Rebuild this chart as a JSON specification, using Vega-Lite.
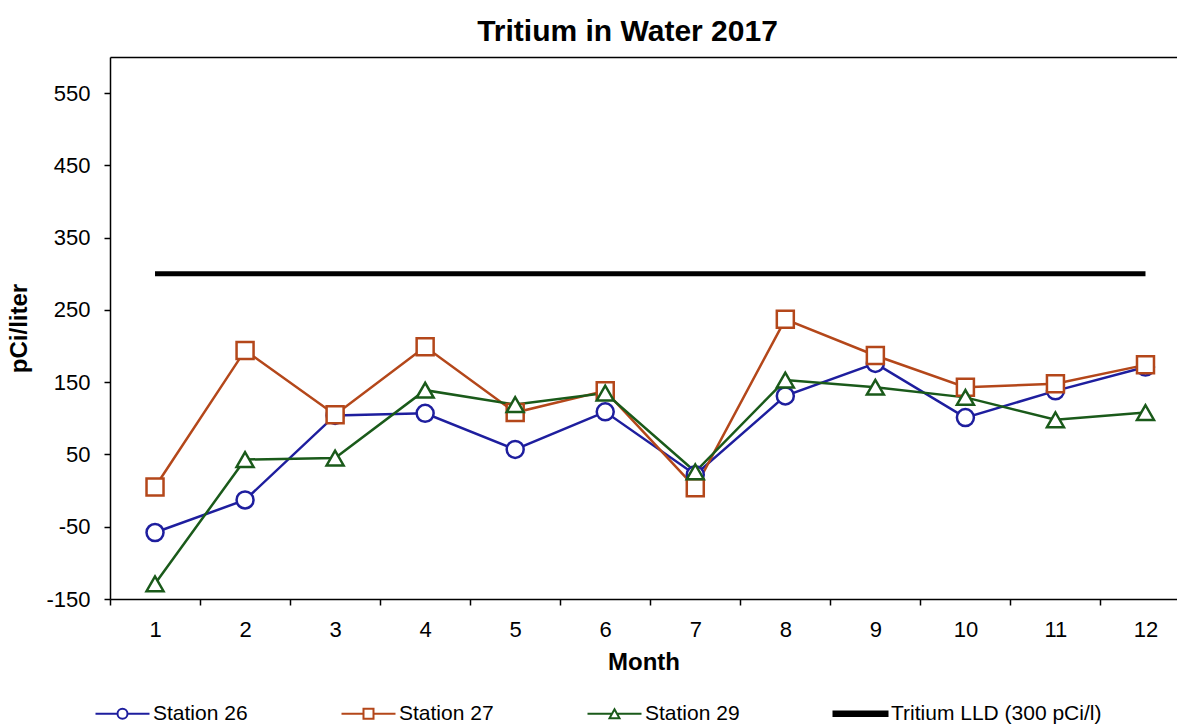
{
  "$schema": "https://vega.github.io/schema/vega-lite/v6.json",
  "width": 1177,
  "height": 724,
  "autosize": {"type": "fit", "contains": "padding"},
  "padding": {"left": 7, "top": 17, "right": 0, "bottom": 0},
  "background": "white",
  "title": {"text": "Tritium in Water 2017", "fontSize": 30, "font": "Liberation Sans", "fontWeight": "bold", "color": "black", "offset": 10, "dx": -16},
  "config": {
    "view": {"stroke": null},
    "axis": {"grid": false, "domainColor": "black", "tickColor": "black", "labelColor": "black", "titleColor": "black", "labelFont": "Liberation Sans", "titleFont": "Liberation Sans", "labelFontSize": 22, "titleFontSize": 24, "titleFontWeight": "bold", "domainWidth": 1.5, "tickWidth": 1.5, "tickSize": 6},
    "legend": {"labelFont": "Liberation Sans", "labelFontSize": 21, "labelColor": "black", "labelLimit": 500}
  },
  "datasets": {
    "obs": [
      {"month": 1, "series": "Station 26", "value": -58},
      {"month": 2, "series": "Station 26", "value": -13},
      {"month": 3, "series": "Station 26", "value": 104},
      {"month": 4, "series": "Station 26", "value": 107},
      {"month": 5, "series": "Station 26", "value": 57},
      {"month": 6, "series": "Station 26", "value": 109},
      {"month": 7, "series": "Station 26", "value": 22},
      {"month": 8, "series": "Station 26", "value": 131},
      {"month": 9, "series": "Station 26", "value": 176},
      {"month": 10, "series": "Station 26", "value": 101},
      {"month": 11, "series": "Station 26", "value": 138},
      {"month": 12, "series": "Station 26", "value": 171},
      {"month": 1, "series": "Station 27", "value": 5},
      {"month": 2, "series": "Station 27", "value": 194},
      {"month": 3, "series": "Station 27", "value": 105},
      {"month": 4, "series": "Station 27", "value": 199},
      {"month": 5, "series": "Station 27", "value": 108},
      {"month": 6, "series": "Station 27", "value": 138},
      {"month": 7, "series": "Station 27", "value": 4},
      {"month": 8, "series": "Station 27", "value": 237},
      {"month": 9, "series": "Station 27", "value": 187},
      {"month": 10, "series": "Station 27", "value": 143},
      {"month": 11, "series": "Station 27", "value": 148},
      {"month": 12, "series": "Station 27", "value": 174},
      {"month": 1, "series": "Station 29", "value": -129},
      {"month": 2, "series": "Station 29", "value": 43},
      {"month": 3, "series": "Station 29", "value": 45},
      {"month": 4, "series": "Station 29", "value": 139},
      {"month": 5, "series": "Station 29", "value": 119},
      {"month": 6, "series": "Station 29", "value": 135},
      {"month": 7, "series": "Station 29", "value": 26},
      {"month": 8, "series": "Station 29", "value": 153},
      {"month": 9, "series": "Station 29", "value": 143},
      {"month": 10, "series": "Station 29", "value": 129},
      {"month": 11, "series": "Station 29", "value": 98},
      {"month": 12, "series": "Station 29", "value": 108}
    ],
    "lld": [
      {"series": "Tritium LLD (300 pCi/l)", "start": 1, "end": 12, "value": 300}
    ]
  },
  "layer": [
    {
      "data": {"name": "lld"},
      "mark": {"type": "rule", "strokeWidth": 5},
      "encoding": {
        "x": {"field": "start", "type": "quantitative", "scale": {"domain": [0.5, 12.35], "nice": false, "zero": false},
              "axis": {"orient": "top", "labels": false, "ticks": false, "domain": true, "title": null}},
        "x2": {"field": "end"},
        "y": {"field": "value", "type": "quantitative"},
        "color": {"field": "series", "type": "nominal"}
      }
    },
    {
      "data": {"name": "obs"},
      "mark": {"type": "line", "strokeWidth": 2.5},
      "encoding": {
        "x": {"field": "month", "type": "quantitative",
              "axis": {"title": "Month", "values": [0.5, 1, 1.5, 2, 2.5, 3, 3.5, 4, 4.5, 5, 5.5, 6, 6.5, 7, 7.5, 8, 8.5, 9, 9.5, 10, 10.5, 11, 11.5, 12],
                       "labelExpr": "datum.value % 1 === 0 ? '' + datum.value : ''",
                       "tickOpacity": {"condition": {"test": "datum.value % 1 === 0", "value": 0}, "value": 1},
                       "labelPadding": 14, "titlePadding": 10, "labelFlush": false, "labelOverlap": false}},
        "y": {"field": "value", "type": "quantitative",
              "scale": {"domain": [-150, 600], "nice": false, "zero": false},
              "axis": {"title": "pCi/liter", "values": [-150, -50, 50, 150, 250, 350, 450, 550], "labelExpr": "'' + datum.value", "labelPadding": 14, "titlePadding": 14}},
        "color": {"field": "series", "type": "nominal",
                  "scale": {"domain": ["Station 26", "Station 27", "Station 29", "Tritium LLD (300 pCi/l)"], "range": ["#1E1E9E", "#B4471A", "#1A5A1A", "#000000"]},
                  "legend": {"orient": "bottom", "direction": "horizontal", "title": null, "columnPadding": 89, "symbolSize": 100, "labelOffset": 20, "symbolOffset": 2, "offset": 29, "labelLimit": 500,
                             "encode": {"symbols": {"update": {
                               "shape": {"signal": "datum.value === 'Station 26' ? 'M-5.4,0H-1M1,0H5.4M-1,0A1,1,0,1,0,1,0A1,1,0,1,0,-1,0' : datum.value === 'Station 27' ? 'M-5.4,0H-1M1,0H5.4M-1,-1H1V1H-1Z' : datum.value === 'Station 29' ? 'M-5.4,0H-0.5M0.5,0H5.4M0,-0.9L1,0.9H-1Z' : 'M-5.4,-0.45H5.4V0.45H-5.4Z'"},
                               "fill": {"signal": "datum.value === 'Tritium LLD (300 pCi/l)' ? 'black' : 'white'"},
                               "fillOpacity": {"value": 1},
                               "strokeWidth": {"value": 2},
                               "opacity": {"value": 1}
                             }}}}}
      }
    },
    {
      "data": {"name": "obs"},
      "mark": {"type": "point", "filled": false, "fill": "white", "fillOpacity": 1, "strokeWidth": 2.5, "opacity": 1},
      "encoding": {
        "x": {"field": "month", "type": "quantitative", "axis": null},
        "y": {"field": "value", "type": "quantitative"},
        "color": {"field": "series", "type": "nominal"},
        "shape": {"field": "series", "type": "nominal", "legend": null,
                  "scale": {"domain": ["Station 26", "Station 27", "Station 29"], "range": ["circle", "square", "triangle-up"]}},
        "size": {"field": "series", "type": "nominal", "legend": null,
                 "scale": {"domain": ["Station 26", "Station 27", "Station 29"], "range": [289, 289, 420]}}
      }
    }
  ],
  "resolve": {"axis": {"x": "independent"}}
}
